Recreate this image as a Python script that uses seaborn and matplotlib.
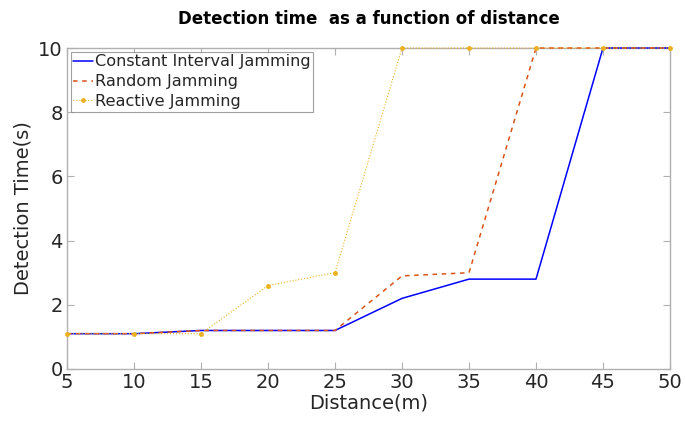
import pandas as pd
import matplotlib
matplotlib.use('Agg')
import matplotlib.pyplot as plt
import seaborn as sns

distance = [5, 10, 15, 20, 25, 30, 35, 40, 45, 50]
constant = [1.1, 1.1, 1.2, 1.2, 1.2, 2.2, 2.8, 2.8, 10, 10]
random_j = [1.1, 1.1, 1.2, 1.2, 1.2, 2.9, 3.0, 10, 10, 10]
reactive = [1.1, 1.1, 1.1, 2.6, 3.0, 10, 10, 10, 10, 10]
names = ['Constant Interval Jamming', 'Random Jamming', 'Reactive Jamming']

df = pd.DataFrame({'distance': distance, names[0]: constant,
                   names[1]: random_j, names[2]: reactive})

sns.set_style('white')
plt.rcParams['font.family'] = ['DejaVu Sans']

fig = plt.figure(figsize=(6.85, 4.21), dpi=100)
ax = fig.add_axes([67/685, 52/421, 603/685, 321/421])

sns.lineplot(x='distance', y=names[0], data=df, ax=ax, color='#0000ff',
             linewidth=1.1, label=names[0], clip_on=False, zorder=3)
sns.lineplot(x='distance', y=names[1], data=df, ax=ax, color='#d95319',
             linewidth=1.1, linestyle=(0, (3, 3)), label=names[1],
             clip_on=False, zorder=4)
sns.lineplot(x='distance', y=names[2], data=df, ax=ax, color='#edb120',
             linewidth=0.8, linestyle=':', marker='o', markersize=3.5,
             markeredgewidth=0, label=names[2], clip_on=False, zorder=5)

ax.set_xlim(5, 50)
ax.set_ylim(0, 10)
ax.set_xticks(range(5, 51, 5))
ax.set_yticks(range(0, 11, 2))
ax.tick_params(direction='in', length=5, labelsize=14, color='#b0b0b0',
               labelcolor='#262626', top=True, right=True, bottom=True,
               left=True, pad=3)
for s in ax.spines.values():
    s.set_color('#b0b0b0')
    s.set_linewidth(1)
    s.set_zorder(1)
ax.set_xlabel('Distance(m)', fontsize=14, labelpad=1, color='#262626')
ax.set_ylabel('Detection Time(s)', fontsize=14, color='#262626')
ax.set_title('Detection time  as a function of distance', fontsize=12,
             fontweight='bold', pad=17, color='black')

leg = ax.legend(loc='upper left', fontsize=11.6, frameon=True, fancybox=False,
                borderpad=0.15, labelspacing=0.3, handlelength=1.2,
                handletextpad=0.15, borderaxespad=0.25)
leg.get_frame().set_edgecolor('#888888')
leg.get_frame().set_linewidth(0.8)
for t in leg.get_texts():
    t.set_color('#262626')

fig.savefig('out.png', dpi=100)
